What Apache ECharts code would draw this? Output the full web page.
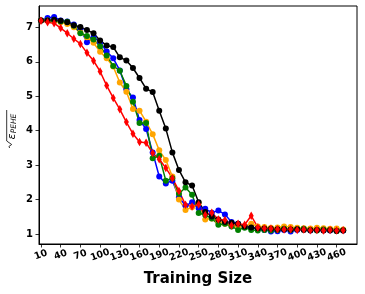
<!DOCTYPE html>
<html><head><meta charset="utf-8">
<script src="https://cdn.jsdelivr.net/npm/echarts@6/dist/echarts.min.js"></script>
<style>html,body{margin:0;padding:0;background:#fff}#c{width:365px;height:294px}</style>
</head><body><div id="c"></div>
<script>
const trainingSizes = [10,20,30,40,50,60,70,80,90,100,110,120,130,140,150,160,170,180,190,200,210,220,230,240,250,260,270,280,290,300,310,320,330,340,350,360,370,380,390,400,410,420,430,440,450,460,470];
const xTickLabels = [10,40,70,100,130,160,190,220,250,280,310,340,370,400,430,460];
const yTickLabels = [1,2,3,4,5,6,7];

const blueVals = [7.20,7.27,7.30,7.20,7.17,7.08,6.95,6.57,6.72,6.57,
  6.30,6.10,5.75,5.20,4.96,4.31,4.05,3.37,2.67,2.47,
  2.55,2.07,1.82,1.92,1.75,1.73,1.62,1.68,1.57,1.35,
  1.30,1.22,1.18,1.15,1.12,1.07,1.08,1.12,1.07,1.12,
  1.14,1.10,1.12,1.11,1.10,1.12,1.10];
const orangeVals = [7.20,7.20,7.18,7.15,7.10,7.00,6.85,6.71,6.55,6.29,
  6.10,5.86,5.40,5.13,4.63,4.58,4.26,3.90,3.43,3.15,
  2.67,2.00,1.70,1.78,1.90,1.42,1.45,1.35,1.30,1.25,
  1.22,1.22,1.30,1.22,1.20,1.18,1.19,1.22,1.20,1.18,
  1.17,1.16,1.18,1.17,1.15,1.16,1.13];
const greenVals = [7.20,7.20,7.20,7.17,7.16,7.05,6.83,6.75,6.65,6.45,
  6.18,5.88,5.74,5.30,4.84,4.22,4.22,3.20,3.27,2.55,
  2.62,2.17,2.35,2.14,1.61,1.55,1.45,1.27,1.30,1.22,
  1.12,1.18,1.12,1.10,1.12,1.10,1.12,1.15,1.12,1.14,
  1.15,1.12,1.10,1.13,1.12,1.09,1.11];
const blackVals = [7.20,7.20,7.22,7.19,7.15,7.06,7.01,6.92,6.83,6.62,
  6.47,6.43,6.13,6.04,5.82,5.53,5.22,5.12,4.58,4.06,
  3.37,2.86,2.50,2.41,1.92,1.64,1.51,1.42,1.35,1.33,
  1.30,1.22,1.19,1.17,1.16,1.15,1.14,1.13,1.13,1.14,
  1.12,1.11,1.12,1.10,1.11,1.09,1.10];
const redVals = [7.19,7.15,7.12,6.98,6.83,6.67,6.52,6.26,6.03,5.72,
  5.31,4.95,4.62,4.25,3.91,3.67,3.65,3.35,3.17,2.92,
  2.62,2.25,1.85,1.80,1.86,1.55,1.62,1.42,1.41,1.25,
  1.30,1.27,1.53,1.19,1.16,1.15,1.14,1.13,1.14,1.12,
  1.13,1.11,1.12,1.10,1.12,1.10,1.11];

const pairs = vals => trainingSizes.map((x, i) => [x, vals[i]]);
const FONT = 'DejaVu Sans';
// split tick labels into two interleaved sets so ECharts' min/max overlap pruning keeps them all
const labelsA = xTickLabels.filter((v, i) => i % 2 === 0);
const labelsB = xTickLabels.filter((v, i) => i % 2 === 1);

function circleSeries(name, vals, color) {
  return {
    name, type: 'line', data: pairs(vals),
    symbol: 'circle', symbolSize: 6, showSymbol: true,
    lineStyle: { color, width: 1.5 },
    itemStyle: { color, borderWidth: 0 },
    animation: false
  };
}

const xLabelStyle = { rotate: 20, align: 'center', verticalAlign: 'middle', margin: 11,
  showMinLabel: true, showMaxLabel: true, hideOverlap: false,
  fontFamily: FONT, fontWeight: 'bold', fontSize: 9.5, color: '#000' };

const chart = echarts.init(document.getElementById('c'), null, { renderer: 'canvas' });
chart.setOption({
  animation: false,
  grid: { left: 39, right: 8, top: 6, bottom: 50, show: true, borderColor: '#000', borderWidth: 1, backgroundColor: 'transparent' },
  xAxis: [{
    type: 'value', min: 7, max: 491, position: 'bottom',
    name: 'Training Size', nameLocation: 'middle', nameGap: 28,
    nameTextStyle: { fontFamily: FONT, fontWeight: 'bold', fontSize: 15, color: '#000' },
    axisLine: { show: true, lineStyle: { color: '#000', width: 1 } },
    axisTick: { show: true, length: 3.5, lineStyle: { color: '#000', width: 0.8 }, customValues: xTickLabels },
    axisLabel: Object.assign({ customValues: labelsA }, xLabelStyle),
    splitLine: { show: false }
  }, {
    type: 'value', min: 7, max: 491, position: 'bottom', offset: 0,
    axisLine: { show: false }, axisTick: { show: false },
    axisLabel: Object.assign({ customValues: labelsB }, xLabelStyle),
    splitLine: { show: false }
  }],
  yAxis: {
    type: 'value', min: 0.71, max: 7.62,
    axisLine: { show: true, lineStyle: { color: '#000', width: 1 } },
    axisTick: { show: true, length: 3.5, lineStyle: { color: '#000', width: 0.8 }, customValues: yTickLabels },
    axisLabel: { customValues: yTickLabels, margin: 6, fontFamily: FONT, fontWeight: 'bold', fontSize: 10, color: '#000' },
    splitLine: { show: false }
  },
  series: [
    circleSeries('blue', blueVals, '#0000ff'),
    circleSeries('orange', orangeVals, '#ffa500'),
    circleSeries('green', greenVals, '#008000'),
    circleSeries('black', blackVals, '#000000'),
    {
      name: 'red', type: 'line', data: pairs(redVals),
      symbol: 'diamond', symbolSize: [5, 8.5],
      lineStyle: { color: '#ff0000', width: 1.5 },
      itemStyle: { color: '#ff0000' },
      animation: false
    }
  ],
  graphic: [
    { type: 'polyline', shape: { points: [[9.7,148],[8.9,146.5],[11.7,144.5],[6.7,141],[6.7,110]] },
      style: { stroke: '#000', lineWidth: 0.8, fill: null } },
    { type: 'text', x: 12.5, y: 136.5, rotation: Math.PI / 2,
      style: { text: 'ε', font: 'italic 11px "DejaVu Sans"', fill: '#000', textAlign: 'center', textVerticalAlign: 'middle' } },
    { type: 'text', x: 14.5, y: 123.5, rotation: Math.PI / 2,
      style: { text: 'PEHE', font: 'italic 7.5px "DejaVu Sans"', fill: '#000', textAlign: 'center', textVerticalAlign: 'middle' } }
  ]
});
</script>
</body></html>
